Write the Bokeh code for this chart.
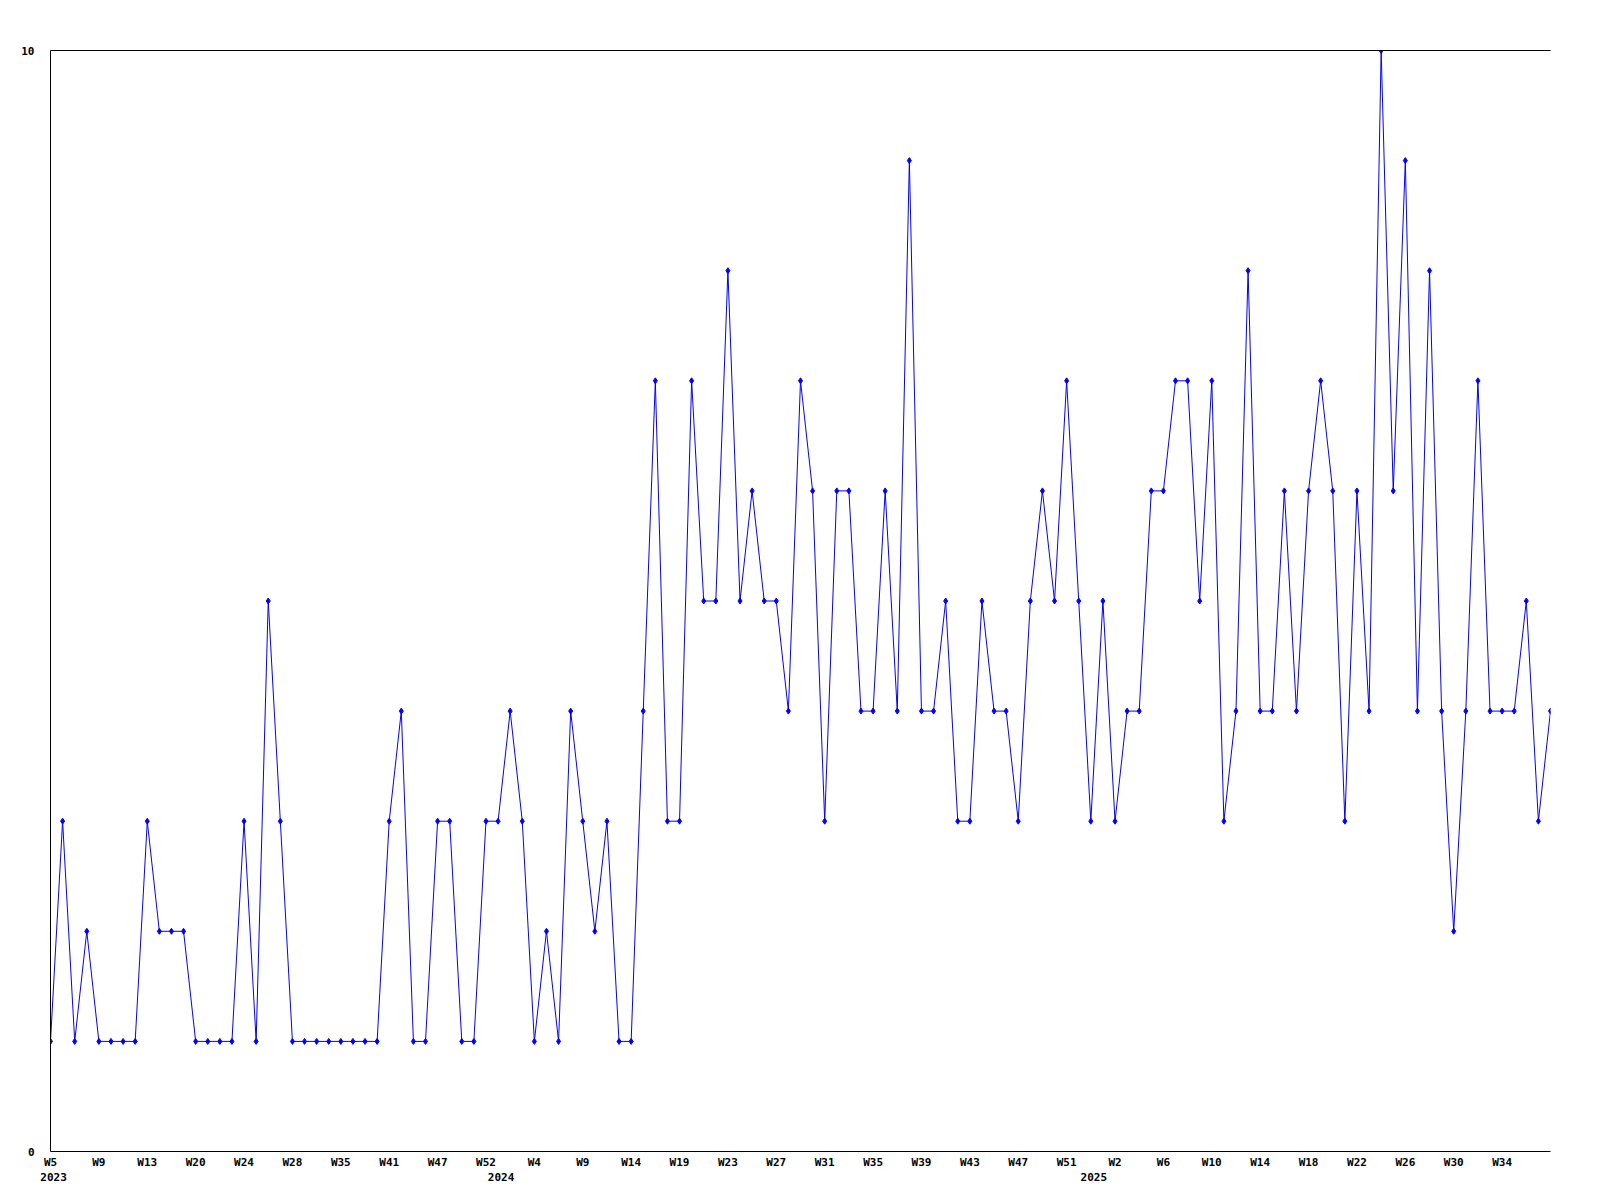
from bokeh.plotting import figure
from bokeh.models import Range1d, FixedTicker, LinearAxis
from bokeh.embed import file_html
from bokeh.resources import INLINE

# ---- data ----
values = [1, 3, 1, 2, 1, 1, 1, 1, 3, 2, 2, 2, 1, 1, 1, 1, 3, 1, 5, 3,
          1, 1, 1, 1, 1, 1, 1, 1, 3, 4, 1, 1, 3, 3, 1, 1, 3, 3, 4, 3,
          1, 2, 1, 4, 3, 2, 3, 1, 1, 4, 7, 3, 3, 7, 5, 5, 8, 5, 6, 5,
          5, 4, 7, 6, 3, 6, 6, 4, 4, 6, 4, 9, 4, 4, 5, 3, 3, 5, 4, 4,
          3, 5, 6, 5, 7, 5, 3, 5, 3, 4, 4, 6, 6, 7, 7, 5, 7, 3, 4, 8,
          4, 4, 6, 4, 6, 7, 6, 3, 6, 4, 10, 6, 9, 4, 8, 4, 2, 4, 7, 4,
          4, 4, 5, 3, 4]
week_labels = ["W5", "W9", "W13", "W20", "W24", "W28", "W35", "W41", "W47", "W52",
               "W4", "W9", "W14", "W19", "W23", "W27", "W31", "W35", "W39", "W43",
               "W47", "W51", "W2", "W6", "W10", "W14", "W18", "W22", "W26", "W30",
               "W34"]
label_step = 4
years = ["2023", "2024", "2025"]
year_start_index = [0, 37, 86]
y_ticks = [0, 10]

xs = list(range(len(values)))
tick_idx = [i * label_step for i in range(len(week_labels))]
year_pos = [i + 0.25 for i in year_start_index]  # slight visual nudge

FONT = "DejaVu Sans Mono"
FS = "11px"

p = figure(width=1584, height=1192, output_backend="svg", toolbar_location=None,
           x_range=Range1d(0, len(values) - 1), y_range=Range1d(0, 10),
           min_border_left=50, min_border_right=34, min_border_top=50,
           min_border_bottom=41, background_fill_color="white",
           border_fill_color="white", outline_line_color=None)
p.grid.visible = False

p.line(xs, values, line_color="#0000ff", line_width=1)
p.scatter(xs, values, marker="diamond", size=6, fill_color="#0000ff",
          line_color="#0000ff", line_width=1)

# x axis: week labels
xa = p.xaxis[0]
xa.ticker = FixedTicker(ticks=tick_idx)
xa.major_label_overrides = {t: lab for t, lab in zip(tick_idx, week_labels)}
xa.major_tick_line_color = None
xa.minor_tick_line_color = None
xa.major_label_standoff = -2
xa.major_label_text_font = FONT
xa.major_label_text_font_style = "bold"
xa.major_label_text_font_size = FS
xa.major_label_text_color = "black"
xa.axis_line_color = "black"

# year row
ya2 = LinearAxis(ticker=FixedTicker(ticks=year_pos),
                 major_label_overrides={t: y for t, y in zip(year_pos, years)},
                 axis_line_color=None, major_tick_line_color=None,
                 minor_tick_line_color=None, major_label_standoff=-5,
                 major_label_text_font=FONT, major_label_text_font_style="bold",
                 major_label_text_font_size=FS, major_label_text_color="black")
p.add_layout(ya2, "below")

# top border line
top = LinearAxis(ticker=FixedTicker(ticks=[]), axis_line_color="black",
                 major_tick_line_color=None, minor_tick_line_color=None,
                 major_label_text_font_size="0px", major_label_standoff=0)
p.add_layout(top, "above")

# y axis
ya = p.yaxis[0]
ya.ticker = FixedTicker(ticks=y_ticks)
ya.major_tick_line_color = None
ya.minor_tick_line_color = None
ya.major_label_standoff = 10
ya.major_label_text_font = FONT
ya.major_label_text_font_style = "bold"
ya.major_label_text_font_size = FS
ya.major_label_text_color = "black"
ya.axis_line_color = "black"

open("out.html", "w").write(file_html(p, INLINE))
